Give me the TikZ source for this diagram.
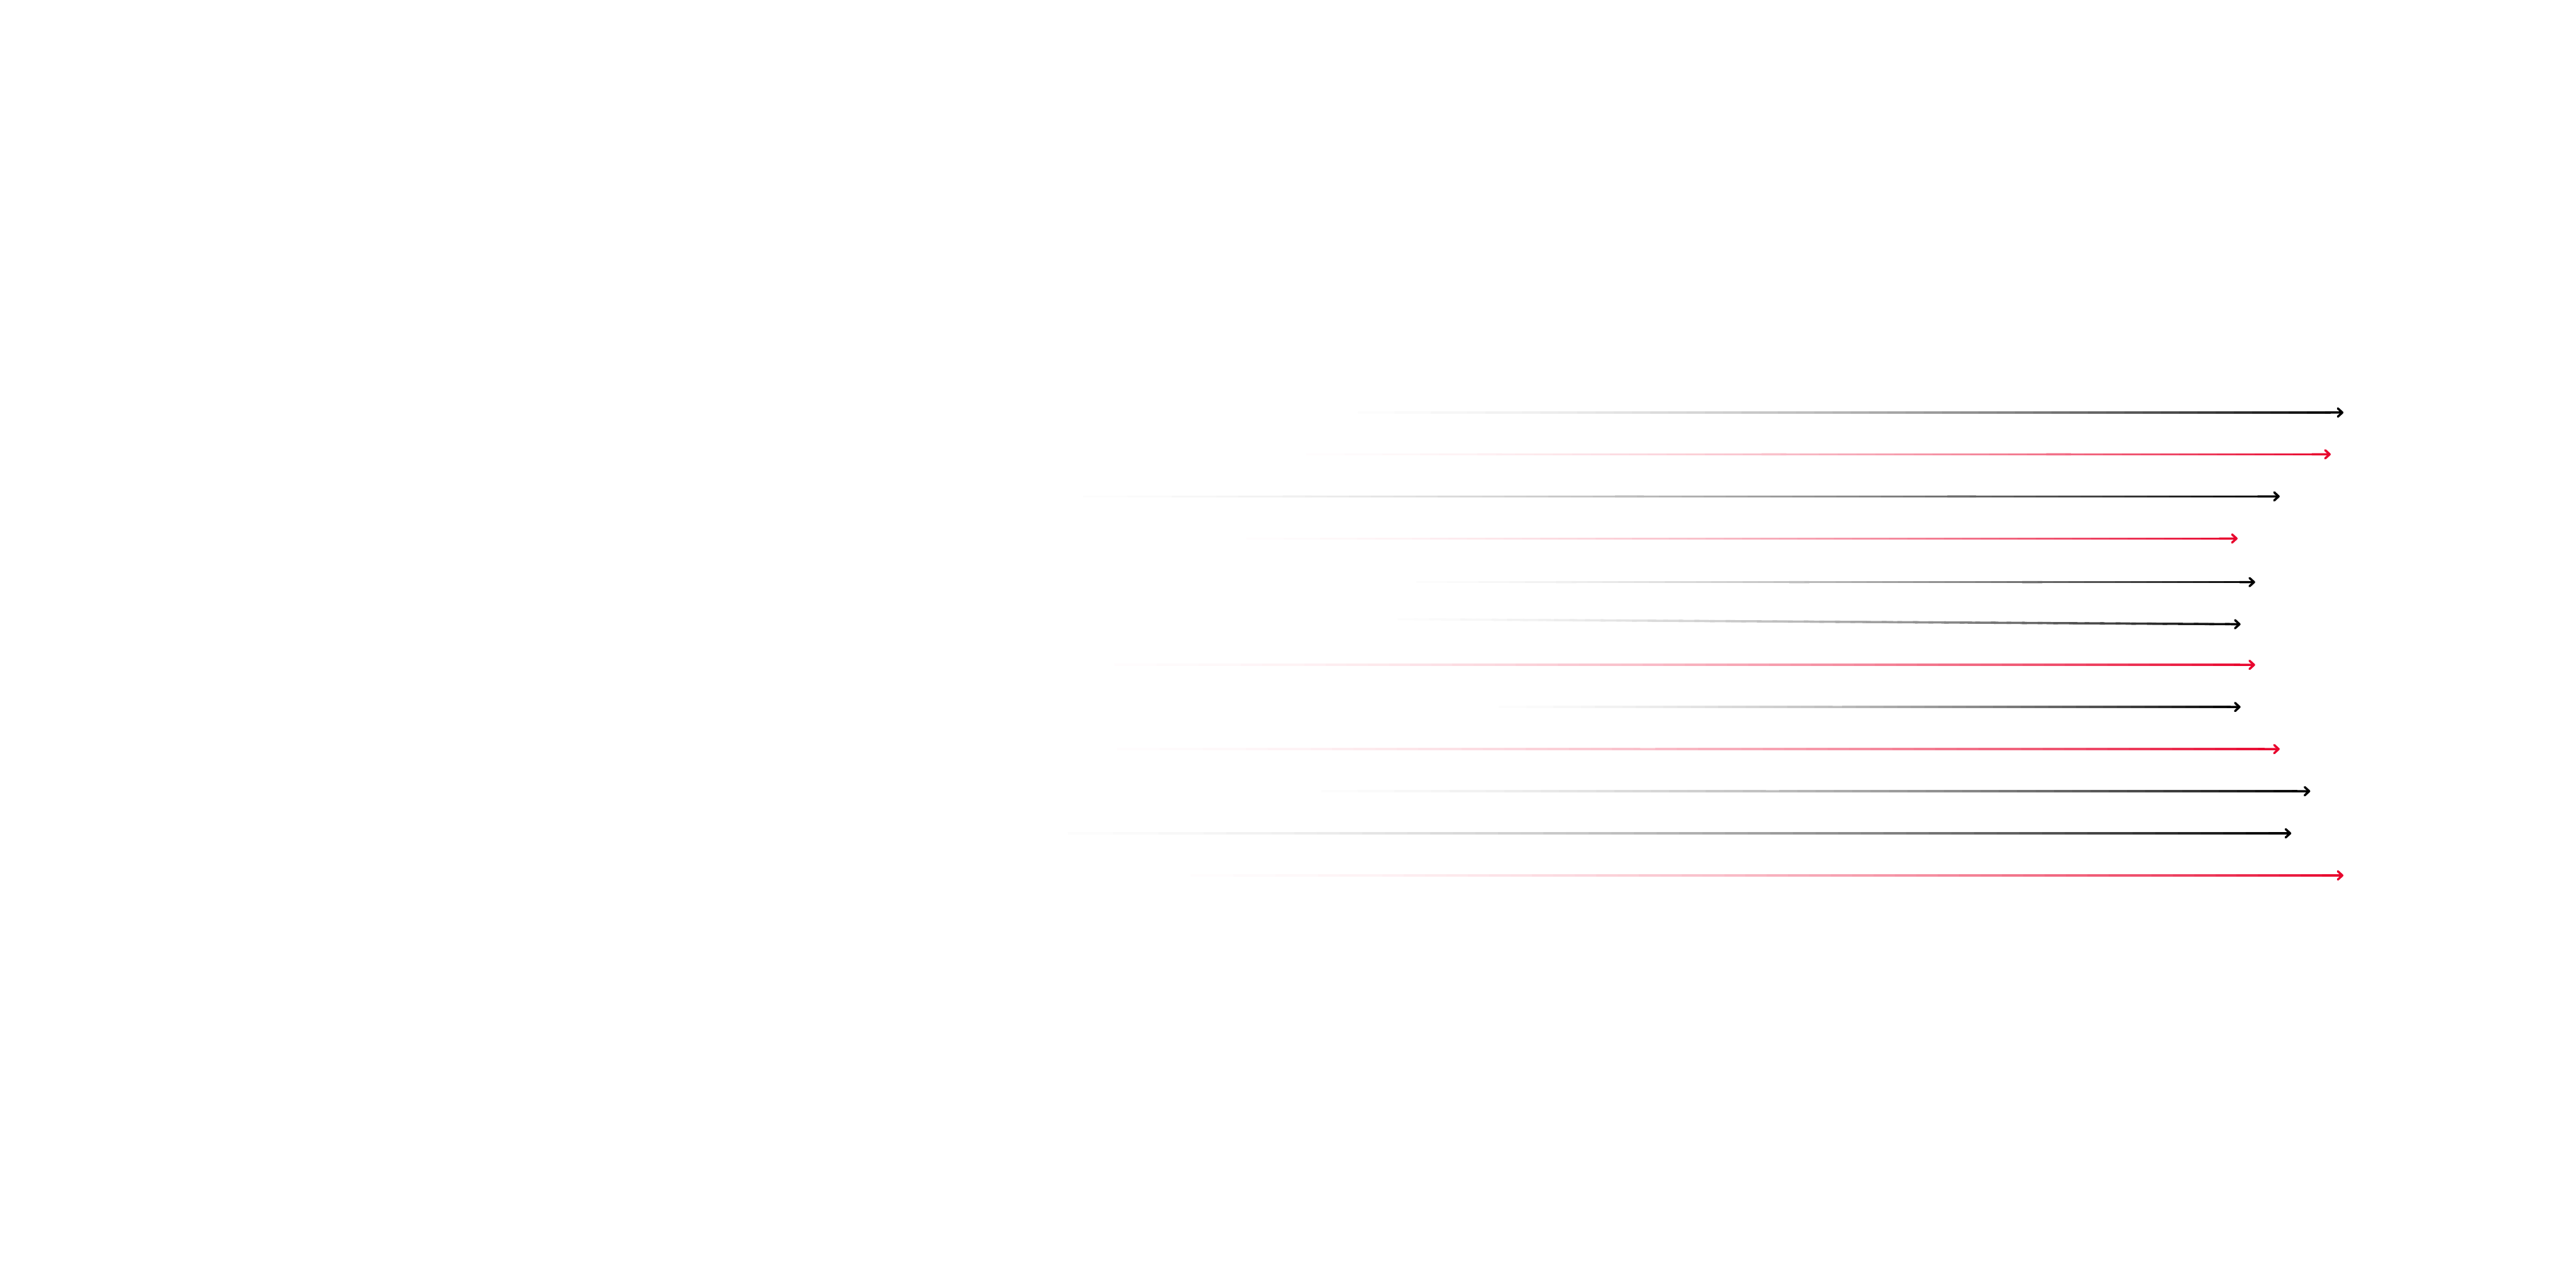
\documentclass[tikz,border=0pt]{standalone}
\usetikzlibrary{arrows.meta,calc}
\definecolor{arrowred}{HTML}{E8052E}
\tikzset{
  fadeseg/.style={line cap=butt},
  fadetip/.style={-{Straight Barb[length=1.2mm,width=2.2mm,round]}}
}
\begin{document}
\begin{tikzpicture}[line width=1.7pt]
\useasboundingbox (0,0) rectangle (69.12,34.56);
% name / start / end / colour
\foreach \name/\xs/\ys/\xe/\ye/\col in {
  ra/33.5/23.49/62.88/23.49/black,
  rb/32.0/22.37/62.54/22.37/arrowred,
  rc/25.5/21.24/61.17/21.24/black,
  rd/30.5/20.11/60.04/20.11/arrowred,
  re/35.5/18.94/60.51/18.94/black,
  rf/35.0/17.96/60.12/17.81/black,
  rg/26.5/16.72/60.51/16.72/arrowred,
  rh/38.0/15.59/60.12/15.59/black,
  ri/26.5/14.46/61.17/14.46/arrowred,
  rj/32.5/13.33/61.99/13.33/black,
  rk/25.0/12.20/61.48/12.20/black,
  rl/28.5/11.07/62.88/11.07/arrowred}{
  \coordinate (\name s) at (\xs,\ys);
  \coordinate (\name e) at (\xe,\ye);
  \foreach \i in {1,...,59}{
    \pgfmathsetmacro\ta{(\i-1)/60}
    \pgfmathsetmacro\tb{(\i+0.3)/60}
    \pgfmathtruncatemacro\mix{100*((\i-0.5)/60)^2}
    \draw[fadeseg,\col!\mix!white] ($(\name s)!\ta!(\name e)$) -- ($(\name s)!\tb!(\name e)$);
  }
  \draw[fadetip,\col] ($(\name s)!0.9833!(\name e)$) -- (\name e);
}
\end{tikzpicture}
\end{document}
